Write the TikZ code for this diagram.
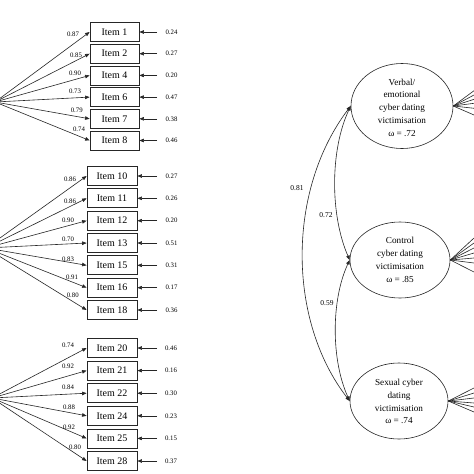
\documentclass[tikz,border=0pt]{standalone}
\usepackage{fontspec}
\setmainfont{Liberation Serif}
\usetikzlibrary{arrows.meta,shapes.geometric}
\begin{document}
\begin{tikzpicture}[x=1pt,y=-1pt,
  ln/.style={draw=black!85, line width=0.6pt},
  itembox/.style={draw=black!85, line width=0.75pt, minimum width=49pt, minimum height=19pt, inner sep=0pt, font=\fontsize{10}{11}\selectfont},
  lat/.style={ellipse, draw=black!85, line width=0.6pt, inner sep=0pt},
  lattext/.style={align=center, inner sep=0pt, font=\fontsize{9.2}{12.8}\selectfont},
  num/.style={font=\fontsize{6.8}{8}\selectfont, inner sep=0pt},
  cnum/.style={font=\fontsize{7.5}{9}\selectfont, inner sep=0pt},
  ld/.style={ln, -{Triangle[length=4.5pt,width=3.5pt]}},
  cor/.style={ln, {Triangle[length=4.5pt,width=3.5pt]}-{Triangle[length=4.5pt,width=3.5pt]}},
]
\fill[white] (0,0) rectangle (474,474);
\useasboundingbox (0,0) rectangle (474,474);
\clip (0,0) rectangle (474,474);

% ---------- group 1 ----------
\coordinate (s1) at (-5,102);
\foreach \n/\y/\l/\e/\lx/\ly in {1/32/0.87/0.24/73/34, 2/53.7/0.85/0.27/76/55, 4/75.4/0.90/0.20/75/73.3, 6/97.1/0.73/0.47/75/91, 7/118.8/0.79/0.38/76.7/110, 8/140.5/0.74/0.46/79/129} {
  \node[itembox] (i\n) at (114.5,\y) {Item \n};
  \coordinate (e\n) at (157,\y);
  \draw[ld] (s1) -- (i\n.west);
  \draw[ld] (e\n) -- (i\n.east);
  \node[num] (el\n) at (171.5,\y) {\e};
  \node[num] (ll\n) at (\lx,\ly) {\l};
}

% ---------- group 2 ----------
\coordinate (s2) at (-14,248);
\foreach \n/\y/\l/\e/\lx/\ly in {10/176/0.86/0.27/70/179, 11/198.3/0.86/0.26/70/201.7, 12/220.7/0.90/0.20/68/220, 13/243/0.70/0.51/68/239, 15/265.3/0.83/0.31/68/259, 16/287.7/0.91/0.17/72/277.7, 18/310/0.80/0.36/72.7/295} {
  \node[itembox, minimum width=50pt] (i\n) at (112,\y) {Item \n};
  \coordinate (e\n) at (157,\y);
  \draw[ld] (s2) -- (i\n.west);
  \draw[ld] (e\n) -- (i\n.east);
  \node[num] (el\n) at (171.5,\y) {\e};
  \node[num] (ll\n) at (\lx,\ly) {\l};
}

% ---------- group 3 ----------
\coordinate (s3) at (-8,398);
\foreach \n/\y/\l/\e/\lx/\ly in {20/348/0.74/0.46/68/345, 21/370.6/0.92/0.16/68/366.7, 22/393.2/0.84/0.30/68/387, 24/415.8/0.88/0.23/69/407, 25/438.4/0.92/0.15/69/427, 28/461/0.80/0.37/75/447} {
  \node[itembox, minimum width=50pt] (i\n) at (112,\y) {Item \n};
  \coordinate (e\n) at (157,\y);
  \draw[ld] (s3) -- (i\n.west);
  \draw[ld] (e\n) -- (i\n.east);
  \node[num] (el\n) at (171,\y) {\e};
  \node[num] (ll\n) at (\lx,\ly) {\l};
}

% ---------- latent factors ----------
\node[lat, minimum width=102pt, minimum height=85pt] (l1) at (402,106) {};
\node[lattext] (t1) at (402,107.5) {Verbal/\\emotional\\cyber dating\\victimisation\\ω = .72};
\node[lat, minimum width=100pt, minimum height=76pt] (l2) at (400,260) {};
\node[lattext] (t2) at (400,260) {Control\\cyber dating\\victimisation\\ω = .85};
\node[lat, minimum width=98pt, minimum height=76pt] (l3) at (399,401) {};
\node[lattext] (t3) at (399,401.5) {Sexual cyber\\dating\\victimisation\\ω = .74};

% fans to the right
\foreach \k/\yy in {a/90.7, b/95, c/99.3, d/103.3, e/108.3, f/115} {
  \coordinate (r1\k) at (474,\yy);
  \draw[ln] (l1.east) -- (r1\k);
}
\foreach \k/\yy in {a/238, b/243, c/248, d/253, e/258, f/263, g/272} {
  \coordinate (r2\k) at (474,\yy);
  \draw[ln] (l2.east) -- (r2\k);
}
\foreach \k/\yy in {a/388, b/393, c/398, d/403, e/407, f/412} {
  \coordinate (r3\k) at (474,\yy);
  \draw[ln] (l3.east) -- (r3\k);
}

% correlations
\draw[cor] (l1.west) .. controls (287,190) and (287,320) .. (l3.west);
\draw[cor] (l1.west) .. controls (330,150) and (330,215) .. (l2.west);
\draw[cor] (l2.west) .. controls (331,300) and (331,360) .. (l3.west);
\node[cnum] (c13) at (297,188) {0.81};
\node[cnum] (c12) at (326,215) {0.72};
\node[cnum] (c23) at (327,303) {0.59};
\end{tikzpicture}
\end{document}
